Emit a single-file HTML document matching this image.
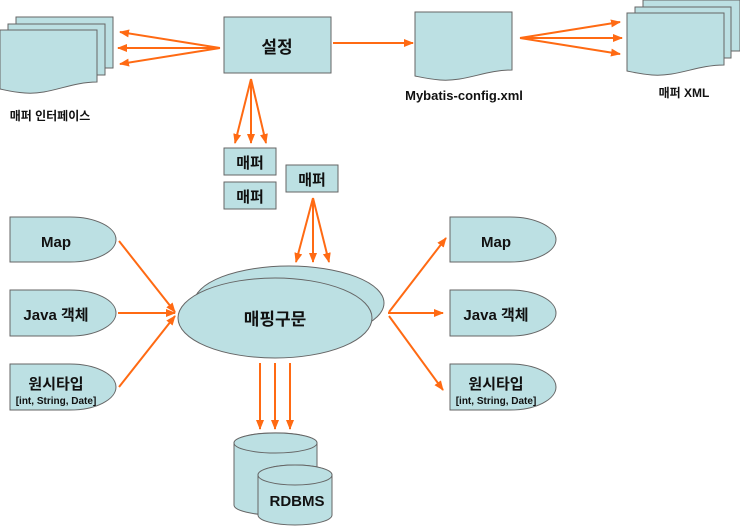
<!DOCTYPE html>
<html><head><meta charset="utf-8"><style>
body{margin:0;background:#fff}
svg text{font-family:"Liberation Sans","Noto Sans CJK KR",sans-serif;font-weight:bold;fill:#111}
</style></head><body>
<svg width="740" height="526" viewBox="0 0 740 526" xmlns="http://www.w3.org/2000/svg">
<defs>
<marker id="a" viewBox="0 0 10 10" refX="9" refY="5" markerWidth="5" markerHeight="5" orient="auto"><path d="M0,1 L10,5 L0,9 Z" fill="#ff6a13"/></marker>
</defs>
<g fill="#bce0e3" stroke="#666" stroke-width="1">
<!-- left docs -->
<path d="M16,17 H113 V68 H16 Z"/>
<path d="M8,24 H105 V75 H8 Z"/>
<path d="M0,30 H97 V82 C70,82 50,95 25,93 C12,92 5,90 0,89 Z"/>
<!-- 설정 -->
<rect x="224" y="17" width="107" height="56"/>
<!-- config -->
<path d="M415,12 H512 V70 C485,70 465,82 440,80 C428,79 420,77 415,76 Z"/>
<!-- mapper XML -->
<path d="M643,0 H740 V51 H643 Z"/>
<path d="M635,7 H731 V58 H635 Z"/>
<path d="M627,13 H724 V65 C697,65 677,77 652,75 C640,74 632,72 627,71 Z"/>
<!-- 매퍼 boxes -->
<rect x="224" y="148" width="52" height="27"/>
<rect x="224" y="182" width="52" height="27"/>
<rect x="286" y="165" width="52" height="27"/>
<!-- left shapes -->
<path d="M10,217 H70 A46,22.5 0 0 1 70,262 H10 Z"/>
<path d="M10,290 H70 A46,23 0 0 1 70,336 H10 Z"/>
<path d="M10,364 H70 A46,23 0 0 1 70,410 H10 Z"/>
<path d="M450,217 H510 A46,22.5 0 0 1 510,262 H450 Z"/>
<path d="M450,290 H510 A46,23 0 0 1 510,336 H450 Z"/>
<path d="M450,364 H510 A46,23 0 0 1 510,410 H450 Z"/>
<!-- ellipses -->
<ellipse cx="289" cy="303" rx="95" ry="37"/>
<ellipse cx="275" cy="318" rx="97" ry="40"/>
<!-- DB -->
<path d="M234,443 A41,10 0 0 1 317,443 V505 A41,10 0 0 1 234,505 Z"/>
<ellipse cx="275.5" cy="443" rx="41.5" ry="10"/>
<path d="M258,475 A37,10 0 0 1 332,475 V515 A37,10 0 0 1 258,515 Z"/>
<ellipse cx="295" cy="475" rx="37" ry="10"/>
</g>
<g stroke="#ff6a13" stroke-width="2" fill="none" marker-end="url(#a)">
<line x1="220" y1="48" x2="120" y2="32"/>
<line x1="220" y1="48" x2="118" y2="48"/>
<line x1="220" y1="48" x2="120" y2="64"/>
<line x1="333" y1="43" x2="413" y2="43"/>
<line x1="520" y1="38" x2="620" y2="22"/>
<line x1="520" y1="38" x2="622" y2="38"/>
<line x1="520" y1="38" x2="620" y2="54"/>
<line x1="251" y1="79" x2="235" y2="143"/>
<line x1="251" y1="79" x2="251" y2="143"/>
<line x1="251" y1="79" x2="266" y2="143"/>
<line x1="313" y1="198" x2="296" y2="262"/>
<line x1="313" y1="198" x2="313" y2="262"/>
<line x1="313" y1="198" x2="329" y2="262"/>
<line x1="119" y1="241" x2="175" y2="312"/>
<line x1="118" y1="313" x2="175" y2="313"/>
<line x1="119" y1="387" x2="175" y2="316"/>
<line x1="389" y1="312" x2="446" y2="238"/>
<line x1="388" y1="313" x2="443" y2="313"/>
<line x1="389" y1="316" x2="443" y2="390"/>
<line x1="260" y1="363" x2="260" y2="429"/>
<line x1="275" y1="363" x2="275" y2="429"/>
<line x1="290" y1="363" x2="290" y2="429"/>
</g>
<g text-anchor="middle">
<text x="277" y="53" font-size="17">설정</text>
<text x="50" y="120" font-size="12">매퍼 인터페이스</text>
<text x="464" y="100" font-size="13">Mybatis-config.xml</text>
<text x="684" y="97" font-size="12">매퍼 XML</text>
<text x="250" y="168" font-size="15">매퍼</text>
<text x="250" y="202" font-size="15">매퍼</text>
<text x="312" y="185" font-size="15">매퍼</text>
<text x="56" y="247" font-size="15">Map</text>
<text x="56" y="320" font-size="15">Java 객체</text>
<text x="56" y="389" font-size="15">원시타입</text>
<text x="56" y="404" font-size="10" font-weight="normal">[int, String, Date]</text>
<text x="496" y="247" font-size="15">Map</text>
<text x="496" y="320" font-size="15">Java 객체</text>
<text x="496" y="389" font-size="15">원시타입</text>
<text x="496" y="404" font-size="10">[int, String, Date]</text>
<text x="275" y="325" font-size="17">매핑구문</text>
<text x="297" y="506" font-size="15">RDBMS</text>
</g>
</svg>
</body></html>
